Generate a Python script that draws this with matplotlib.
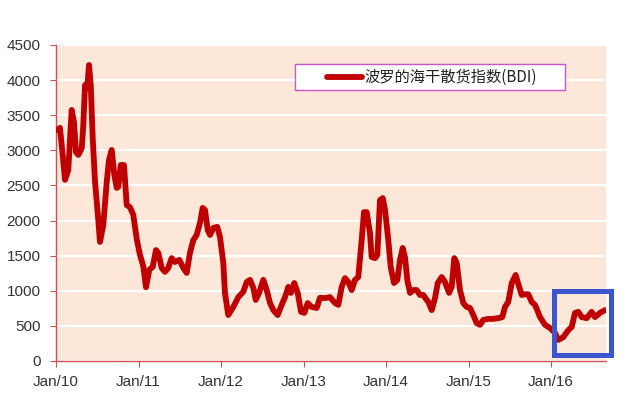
import matplotlib
matplotlib.use("Agg")
import matplotlib.pyplot as plt
from matplotlib.patches import Rectangle
from matplotlib.lines import Line2D

plt.rcParams['font.family'] = ['Liberation Sans', 'DejaVu Sans']

# time in years since Jan 2010
t = [0.016, 0.048, 0.081, 0.109, 0.149, 0.19, 0.218, 0.242, 0.27, 0.312, 0.331, 0.352,
     0.379, 0.40, 0.421, 0.445, 0.473, 0.505, 0.533, 0.573, 0.615, 0.642, 0.675, 0.707,
     0.736, 0.755, 0.784, 0.824, 0.857, 0.897, 0.937, 0.978, 1.018, 1.058, 1.091, 1.131,
     1.172, 1.212, 1.24, 1.281, 1.321, 1.36, 1.402, 1.442, 1.495, 1.543, 1.584, 1.624,
     1.664, 1.705, 1.745, 1.778, 1.806, 1.839, 1.867, 1.907, 1.955, 1.988, 2.028, 2.048,
     2.088, 2.149, 2.21, 2.27, 2.312, 2.352, 2.392, 2.421, 2.461, 2.513, 2.554, 2.594,
     2.634, 2.687, 2.736, 2.776, 2.816, 2.848, 2.888, 2.93, 2.97, 3.01, 3.051, 3.099,
     3.16, 3.2, 3.261, 3.321, 3.382, 3.422, 3.463, 3.503, 3.543, 3.584, 3.624, 3.664,
     3.705, 3.733, 3.766, 3.806, 3.826, 3.867, 3.895, 3.927, 3.96, 3.988, 4.028, 4.057,
     4.097, 4.137, 4.17, 4.202, 4.23, 4.258, 4.291, 4.331, 4.372, 4.412, 4.452, 4.493,
     4.513, 4.554, 4.594, 4.627, 4.675, 4.715, 4.764, 4.796, 4.828, 4.857, 4.897, 4.937,
     4.978, 5.018, 5.058, 5.099, 5.139, 5.179, 5.24, 5.3, 5.361, 5.41, 5.442, 5.482,
     5.524, 5.572, 5.6, 5.645, 5.685, 5.725, 5.766, 5.806, 5.867, 5.927, 5.988, 6.048,
     6.088, 6.149, 6.21, 6.251, 6.291, 6.331, 6.372, 6.433, 6.493, 6.533, 6.594, 6.655]
bdi = [3290, 3320, 2935, 2580, 2720, 3575, 3400, 2975, 2935, 3030, 3360, 3930,
       3890, 4215, 3930, 3175, 2550, 2120, 1695, 1935, 2550, 2860, 3005, 2650,
       2465, 2480, 2790, 2790, 2220, 2190, 2080, 1740, 1510, 1350, 1050, 1300,
       1340, 1580, 1540, 1325, 1270, 1325, 1465, 1410, 1440, 1325, 1255, 1540,
       1720, 1795, 1965, 2180, 2150, 1865, 1795, 1895, 1910, 1765, 1395, 970,
       655, 770, 910, 985, 1125, 1155, 1040, 870, 970, 1155, 1010, 825,
       725, 655, 800, 910, 1055, 970, 1110, 970, 700, 685, 825, 770,
       755, 900, 895, 910, 825, 800, 1055, 1180, 1125, 1010, 1155, 1195,
       1720, 2120, 2120, 1820, 1480, 1465, 1510, 2290, 2320, 2150, 1720, 1340,
       1110, 1155, 1440, 1610, 1480, 1155, 970, 1010, 1010, 940, 940, 870,
       840, 725, 895, 1110, 1195, 1125, 970, 1055, 1465, 1395, 1010, 825,
       770, 755, 655, 540, 515, 585, 600, 600, 610, 625, 770, 840,
       1110, 1225, 1110, 940, 950, 950, 840, 800, 625, 515, 470, 400,
       300, 340, 440, 485, 685, 700, 625, 610, 700, 625, 685, 725]

tick_pos = [0, 1, 2, 3, 4, 5, 6]
tick_labels = ['Jan/10', 'Jan/11', 'Jan/12', 'Jan/13', 'Jan/14', 'Jan/15', 'Jan/16']
y_ticks = [0, 500, 1000, 1500, 2000, 2500, 3000, 3500, 4000, 4500]
legend_label = '波罗的海干散货指数(BDI)'

fig = plt.figure(figsize=(6.4, 3.96), dpi=100)
ax = fig.add_axes([56/640, 1-361/396, 550/640, 316/396])
ax.set_facecolor('#FCE7D9')
ax.plot(t, bdi, color='#C00000', lw=4.2, solid_joinstyle='round', solid_capstyle='round', zorder=3)
ax.set_xlim(0, 550/82.5)
ax.set_ylim(0, 4500)
ax.set_xticks(tick_pos)
ax.set_xticklabels(tick_labels)
ax.set_yticks(y_ticks)
ax.grid(axis='y', color='white', lw=1.6, zorder=1)
ax.set_axisbelow(True)
for s in ['top', 'right']:
    ax.spines[s].set_visible(False)
ax.spines['left'].set_color('#D05050')
ax.spines['bottom'].set_color('#D05050')
ax.spines['left'].set_linewidth(1.0)
ax.spines['bottom'].set_linewidth(1.0)
ax.tick_params(axis='both', colors='#D05050', labelcolor='#333333', labelsize=11, length=4)
ax.tick_params(axis='x', pad=6)
ax.tick_params(axis='y', pad=7)

# legend box
fig.patches.append(Rectangle((295/640, 1-90/396), 270/640, 26/396, transform=fig.transFigure,
                             facecolor='white', edgecolor='#CC55CC', lw=1.0, zorder=5))
fig.lines.append(Line2D([327/640, 362/640], [1-77/396, 1-77/396], transform=fig.transFigure,
                        color='#C00000', lw=4.2, solid_capstyle='round', zorder=6))
fig.text(364/640, 1-77/396, legend_label, va='center', ha='left', fontsize=11, color='#222222',
         family=['Noto Sans CJK SC', 'DejaVu Sans'], zorder=6)

# highlight box
fig.patches.append(Rectangle((553.5/640, 1-354.5/396), 57/640, 64/396, transform=fig.transFigure,
                             facecolor='none', edgecolor='#3A56CC', lw=3.6, zorder=7))

fig.savefig('out.png', dpi=100)
